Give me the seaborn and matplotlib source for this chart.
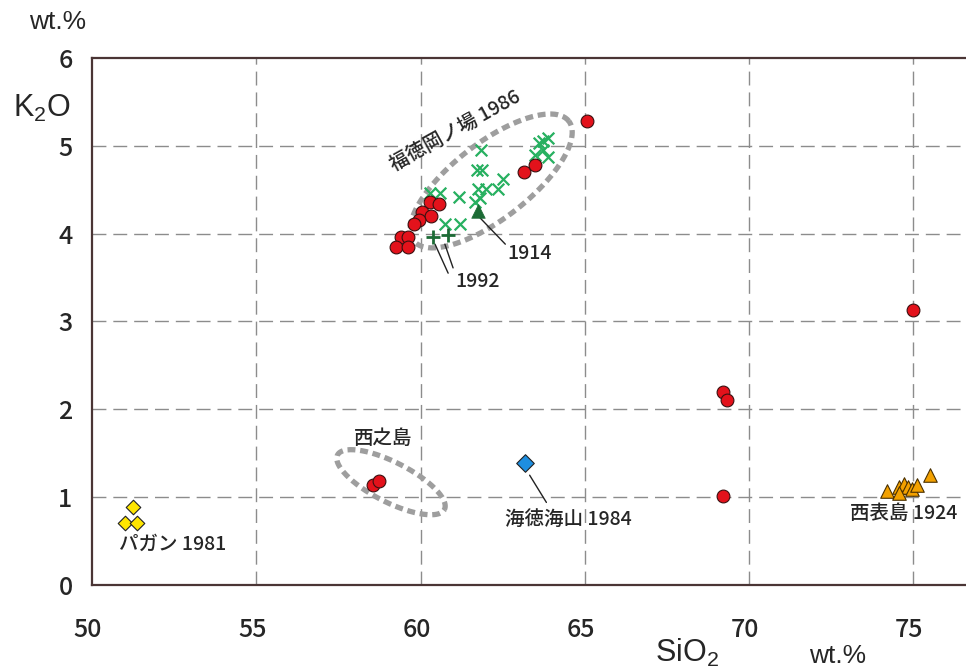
import matplotlib
matplotlib.use('Agg')
import matplotlib.pyplot as plt
import matplotlib.transforms as mtransforms
import seaborn as sns
import numpy as np
import pandas as pd

# data (SiO2 wt.%, K2O wt.%)
red_si = [65.07, 63.15, 63.49, 60.29, 60.56, 60.05, 60.32, 59.95, 59.80, 59.41,
          59.62, 59.25, 59.62, 69.21, 69.33, 69.20, 74.98, 58.56, 58.74]
red_k = [5.28, 4.70, 4.78, 4.36, 4.34, 4.25, 4.20, 4.15, 4.11, 3.96,
         3.96, 3.85, 3.85, 2.20, 2.11, 1.01, 3.13, 1.14, 1.18]

fk1986_si = [61.84, 61.72, 61.87, 62.51, 62.36, 61.75, 61.99, 61.81, 61.66, 60.29,
             60.59, 61.17, 60.75, 61.20, 63.61, 63.73, 63.88, 63.49, 63.88, 63.73]
fk1986_k = [4.95, 4.72, 4.72, 4.62, 4.51, 4.51, 4.51, 4.41, 4.36, 4.46,
            4.46, 4.42, 4.11, 4.11, 5.03, 5.05, 5.09, 4.90, 4.87, 4.95]

fk1992_si = [60.38, 60.84]
fk1992_k = [3.96, 3.99]

fk1914_si = [61.75]
fk1914_k = [4.26]

pagan_si = [51.25, 51.00, 51.37]
pagan_k = [0.89, 0.71, 0.71]

kaitoku_si = [63.18]
kaitoku_k = [1.39]

iriomote_si = [74.20, 74.55, 74.70, 74.85, 74.95, 75.10, 75.50, 74.55]
iriomote_k = [1.07, 1.12, 1.15, 1.11, 1.09, 1.14, 1.25, 1.05]

x_ticks = [50, 55, 60, 65, 70, 75]
y_ticks = [0, 1, 2, 3, 4, 5, 6]

JP = ['Noto Sans CJK JP', 'DejaVu Sans']
HV = ['Liberation Sans', 'DejaVu Sans']

sns.set_style('white')
plt.rcParams['font.family'] = JP

fig = plt.figure(figsize=(9.66, 6.71), dpi=100)
ax = fig.add_axes([0.0952, 0.1282, 0.9048, 0.7854])

ax.set_xlim(50, 76.6)
ax.set_ylim(0, 6)

grid_kw = dict(color='#8c8c8c', lw=1.0, dashes=(10, 5), zorder=0)
for xv in x_ticks[1:]:
    ax.axvline(xv, **grid_kw)
for yv in y_ticks[1:-1]:
    ax.axhline(yv, **grid_kw)


def ellipse(cx, cy, a_px, b_px, ang):
    # ellipse drawn in screen space, converted back to data units
    bb = ax.get_window_extent()
    sx = bb.width / (76.6 - 50)
    sy = bb.height / 6.0
    t = np.linspace(0, 2 * np.pi, 200)
    th = np.deg2rad(ang)
    px = a_px * np.cos(t) * np.cos(th) - b_px * np.sin(t) * np.sin(th)
    py = a_px * np.cos(t) * np.sin(th) + b_px * np.sin(t) * np.cos(th)
    ax.plot(cx + px / sx, cy + py / sy, color='#9e9e9e', lw=3.8,
            linestyle=(0, (1.5, 0.9)), solid_capstyle='butt', zorder=1)


ellipse(62.15, 4.60, 98, 38, 37.6)
ellipse(59.10, 1.17, 60, 20, -27)

sns.scatterplot(x=fk1986_si, y=fk1986_k, ax=ax, marker='x', s=70,
                color='#27b060', linewidth=1.6, zorder=3)
sns.scatterplot(x=red_si, y=red_k, ax=ax, marker='o', s=85,
                color='#e3121b', edgecolor='#3a1010', linewidth=0.8, zorder=4)
sns.scatterplot(x=fk1992_si, y=fk1992_k, ax=ax, marker='+', s=110,
                color='#1c6b35', linewidth=2.0, zorder=5)
sns.scatterplot(x=fk1914_si, y=fk1914_k, ax=ax, marker='^', s=95,
                color='#1c6b35', edgecolor='#1c6b35', linewidth=0.5, zorder=5)
sns.scatterplot(x=pagan_si, y=pagan_k, ax=ax, marker='D', s=55,
                color='#ffe600', edgecolor='#222222', linewidth=0.8, zorder=4)
sns.scatterplot(x=kaitoku_si, y=kaitoku_k, ax=ax, marker='D', s=80,
                color='#1e8ee0', edgecolor='#222222', linewidth=0.8, zorder=4)
sns.scatterplot(x=iriomote_si, y=iriomote_k, ax=ax, marker='^', s=95,
                color='#f3a100', edgecolor='#4a3000', linewidth=0.8, zorder=4)

# leader lines and labels
line_kw = dict(color='#222222', lw=1.0, zorder=2)
ax.plot([61.81, 62.58], [4.18, 3.88], **line_kw)
ax.plot([60.44, 60.84], [3.88, 3.55], **line_kw)
ax.plot([60.74, 60.99], [3.88, 3.61], **line_kw)
ax.plot([63.32, 63.83], [1.25, 0.94], **line_kw)

lab_kw = dict(fontsize=14, fontweight='medium', va='center')
ax.text(62.65, 3.77, '1914', ha='left', **lab_kw)
ax.text(61.75, 3.46, '1992', ha='center', **lab_kw)
ax.text(61.05, 5.17, '福徳岡ノ場 1986', ha='center', rotation=29,
        rotation_mode='anchor', **lab_kw)
ax.text(58.85, 1.67, '西之島', ha='center', **lab_kw)
ax.text(52.45, 0.46, 'パガン 1981', ha='center', **lab_kw)
ax.text(64.5, 0.74, '海徳海山 1984', ha='center', **lab_kw)
ax.text(74.7, 0.81, '西表島 1924', ha='center', **lab_kw)

ax.set_xticks(x_ticks)
ax.set_yticks(y_ticks)
ax.tick_params(length=0, labelsize=18)
ax.tick_params(axis='x', pad=23)
ax.tick_params(axis='y', pad=14)
shift = mtransforms.ScaledTranslation(-4 / 100, 0, fig.dpi_scale_trans)
for lab in ax.get_xticklabels():
    lab.set_transform(lab.get_transform() + shift)
for lab in ax.get_xticklabels() + ax.get_yticklabels():
    lab.set_fontweight('medium')
ax.set_xlabel('')
ax.set_ylabel('')

for side in ['left', 'bottom', 'top']:
    ax.spines[side].set_color('#4a3535')
    ax.spines[side].set_linewidth(1.6)
ax.spines['right'].set_visible(False)

fig.text(0.060, 0.967, 'wt.%', fontsize=19, family=HV, ha='center', va='center')
fig.text(0.043, 0.839, 'K$_\\mathregular{2}$O', fontsize=22, family=HV,
         ha='center', va='center')
fig.text(0.711, 0.027, 'SiO$_\\mathregular{2}$', fontsize=22, family=HV,
         ha='center', va='center')
fig.text(0.867, 0.022, 'wt.%', fontsize=19, family=HV, ha='center', va='center')

fig.savefig('out.png', dpi=100)
